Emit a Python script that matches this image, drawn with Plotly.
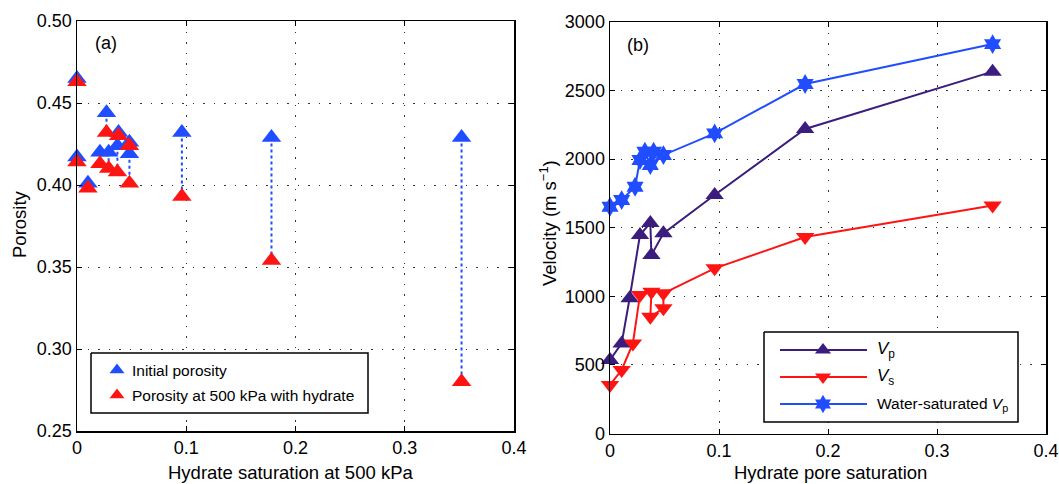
import plotly.graph_objects as go

W, H = 1059, 484
FONT = "Liberation Sans, Arial, sans-serif"

# ---------------- Panel (a) data ----------------
sat_500 = [0.0, 0.0, 0.010, 0.021, 0.027, 0.029, 0.037, 0.038, 0.048, 0.048, 0.096, 0.178, 0.352]
phi_initial = [0.465, 0.417, 0.401, 0.420, 0.444, 0.420, 0.424, 0.432, 0.426, 0.419, 0.432, 0.429, 0.429]
phi_500kpa = [0.463, 0.414, 0.398, 0.413, 0.432, 0.410, 0.408, 0.430, 0.424, 0.401, 0.393, 0.354, 0.280]

# ---------------- Panel (b) data ----------------
sh_vp = [0.0, 0.0107, 0.018, 0.0275, 0.037, 0.038, 0.049, 0.096, 0.179, 0.351]
vp = [536, 657, 986, 1447, 1535, 1301, 1459, 1739, 2220, 2638]
sh_vs = [0.0, 0.0107, 0.021, 0.0275, 0.038, 0.037, 0.049, 0.049, 0.096, 0.179, 0.351]
vs = [354, 463, 657, 1010, 1034, 851, 913, 1022, 1204, 1432, 1662]
sh_ws = [0.0, 0.0107, 0.023, 0.0275, 0.032, 0.037, 0.040, 0.049, 0.096, 0.179, 0.351]
vp_ws = [1653, 1702, 1799, 1994, 2054, 1957, 2054, 2030, 2188, 2548, 2839]

x_ticks = [0, 0.1, 0.2, 0.3, 0.4]
x_ticktext = ["0", "0.1", "0.2", "0.3", "0.4"]
phi_ticks = [0.25, 0.30, 0.35, 0.40, 0.45, 0.50]
v_ticks = [0, 500, 1000, 1500, 2000, 2500, 3000]

BLUE = "#1f4dff"
RED = "#ff1414"
PURPLE = "#3b1d7e"
BLUE_B = "#1f4dff"

fig = go.Figure()

# dotted links between initial and final porosity
link_x, link_y = [], []
for s, a, b in zip(sat_500, phi_initial, phi_500kpa):
    link_x += [s, s, None]
    link_y += [a, b, None]
fig.add_trace(go.Scatter(x=link_x, y=link_y, mode="lines", xaxis="x", yaxis="y",
                         line=dict(color=BLUE, width=2, dash="dot"), showlegend=False, hoverinfo="skip"))
fig.add_trace(go.Scatter(x=sat_500, y=phi_initial, mode="markers", xaxis="x", yaxis="y",
                         marker=dict(symbol="triangle-up", size=17, color=BLUE), name="Initial porosity",
                         cliponaxis=False, showlegend=False))
fig.add_trace(go.Scatter(x=sat_500, y=phi_500kpa, mode="markers", xaxis="x", yaxis="y",
                         marker=dict(symbol="triangle-up", size=17, color=RED),
                         name="Porosity at 500 kPa with hydrate", cliponaxis=False, showlegend=False))

# panel (b)
fig.add_trace(go.Scatter(x=sh_vp, y=vp, mode="lines+markers", xaxis="x2", yaxis="y2",
                         line=dict(color=PURPLE, width=2),
                         marker=dict(symbol="triangle-up", size=16, color=PURPLE),
                         cliponaxis=False, showlegend=False))
fig.add_trace(go.Scatter(x=sh_vs, y=vs, mode="lines+markers", xaxis="x2", yaxis="y2",
                         line=dict(color=RED, width=2),
                         marker=dict(symbol="triangle-down", size=16, color=RED),
                         cliponaxis=False, showlegend=False))
fig.add_trace(go.Scatter(x=sh_ws, y=vp_ws, mode="lines+markers", xaxis="x2", yaxis="y2",
                         line=dict(color=BLUE_B, width=2),
                         marker=dict(symbol="hexagram", size=15, color=BLUE_B),
                         cliponaxis=False, showlegend=False))

# ---------------- legends drawn on a pixel-space overlay axis ----------------
def box(x0, x1, y0, y1):
    fig.add_trace(go.Scatter(x=[x0, x1, x1, x0, x0], y=[y0, y0, y1, y1, y0], mode="lines",
                             xaxis="x3", yaxis="y3", fill="toself", fillcolor="white",
                             line=dict(color="black", width=1.5), showlegend=False, hoverinfo="skip"))

box(91, 368, 353, 413)
fig.add_trace(go.Scatter(x=[117], y=[370], mode="markers", xaxis="x3", yaxis="y3",
                         marker=dict(symbol="triangle-up", size=13, color=BLUE), showlegend=False))
fig.add_trace(go.Scatter(x=[117], y=[395], mode="markers", xaxis="x3", yaxis="y3",
                         marker=dict(symbol="triangle-up", size=13, color=RED), showlegend=False))

box(764, 1018, 332, 422)
leg_rows = [(350, PURPLE, "triangle-up"), (377, RED, "triangle-down"), (404, BLUE_B, "hexagram")]
for yy, col, sym in leg_rows:
    fig.add_trace(go.Scatter(x=[780, 867], y=[yy, yy], mode="lines", xaxis="x3", yaxis="y3",
                             line=dict(color=col, width=2), showlegend=False, hoverinfo="skip"))
    fig.add_trace(go.Scatter(x=[823], y=[yy], mode="markers", xaxis="x3", yaxis="y3",
                             marker=dict(symbol=sym, size=14, color=col), showlegend=False))

annots = []
def txt(x, y, t, size=15, xanchor="left", angle=0):
    annots.append(dict(x=x, y=y, xref="x3", yref="y3", text=t, showarrow=False,
                       xanchor=xanchor, yanchor="middle", textangle=angle,
                       font=dict(family=FONT, size=size, color="black")))

txt(130, 370, "Initial porosity", size=15.5)
txt(130, 395, "Porosity at 500 kPa with hydrate", size=15.5)
txt(875, 350, "<i>V</i><sub>p</sub>", size=17)
txt(875, 377, "<i>V</i><sub>s</sub>", size=17)
txt(875, 404, "Water-saturated <i>V</i><sub>p</sub>", size=15.5)
txt(93, 43, "(a)", size=18)
txt(625, 45, "(b)", size=18)
txt(290, 472, "Hydrate saturation at 500 kPa", size=18.5, xanchor="center")
txt(830, 472, "Hydrate pore saturation", size=18.5, xanchor="center")
txt(19, 224, "Porosity", size=18.5, xanchor="center", angle=-90)
txt(548, 223, "Velocity (m s<sup>−1</sup>)", size=18.5, xanchor="center", angle=-90)

axis_common = dict(showline=True, linecolor="black", linewidth=1.5, mirror="ticks",
                   ticks="inside", ticklen=5, tickcolor="black", tickwidth=1,
                   showgrid=True, gridcolor="#333333", gridwidth=1, griddash="1.5px,9px",
                   zeroline=False, automargin=False,
                   tickfont=dict(family=FONT, size=18, color="black"))

fig.update_layout(
    width=W, height=H,
    margin=dict(l=0, r=0, t=0, b=0, autoexpand=False),
    paper_bgcolor="white", plot_bgcolor="rgba(0,0,0,0)",
    showlegend=False,
    xaxis=dict(domain=[77 / W, 514 / W], range=[0, 0.4], tickvals=x_ticks, ticktext=x_ticktext,
               anchor="y", **axis_common),
    yaxis=dict(domain=[(H - 431) / H, (H - 21) / H], range=[0.25, 0.50], tickvals=phi_ticks,
               tickformat=".2f", anchor="x", **axis_common),
    xaxis2=dict(domain=[610 / W, 1046 / W], range=[0, 0.4], tickvals=x_ticks, ticktext=x_ticktext,
                anchor="y2", **axis_common),
    yaxis2=dict(domain=[(H - 433.5) / H, (H - 22) / H], range=[0, 3000], tickvals=v_ticks,
                anchor="x2", **axis_common),
    xaxis3=dict(domain=[0, 1], range=[0, W], visible=False, anchor="y3", fixedrange=True,
                automargin=False),
    yaxis3=dict(domain=[0, 1], range=[H, 0], visible=False, anchor="x3", fixedrange=True,
                automargin=False),
    annotations=annots,
)

fig.write_html("out.html", config={"displayModeBar": False, "staticPlot": True},
               post_script="document.body.style.margin='0';document.body.style.overflow='hidden';")
